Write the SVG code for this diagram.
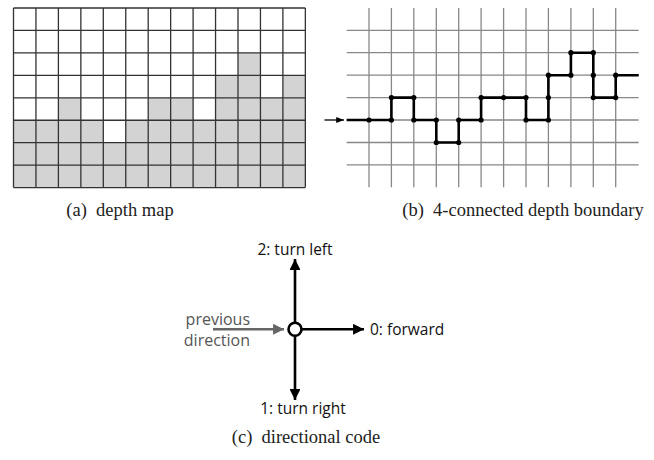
<svg xmlns="http://www.w3.org/2000/svg" width="654" height="460" viewBox="0 0 654 460">
<style>
.ga{stroke:#333;stroke-width:1.3;fill:none}
.gb{stroke:#888;stroke-width:1.3;fill:none}
.cell{fill:#d3d3d3}
.path{stroke:#000;stroke-width:2.6;fill:none;stroke-linejoin:miter}
.dot{fill:#000}
.cap{font-family:"Liberation Serif",serif;font-size:18.5px;fill:#222;white-space:pre}
.lbl{font-family:"Open Sans","Noto Sans",sans-serif;font-size:15.5px;fill:#111}
.lblg{font-family:"Open Sans","Noto Sans",sans-serif;font-size:16px;fill:#555}
</style>
<defs>
<marker id="ah" viewBox="0 0 10 10" refX="10" refY="5" markerWidth="4.2" markerHeight="4.2" markerUnits="strokeWidth" orient="auto"><path d="M0,0 L10,5 L0,10 z" fill="#000"/></marker>
<marker id="ahg" viewBox="0 0 10 10" refX="10" refY="5" markerWidth="4.2" markerHeight="4.2" markerUnits="strokeWidth" orient="auto"><path d="M0,0 L10,5 L0,10 z" fill="#666"/></marker>
<marker id="ahs" viewBox="0 0 10 10" refX="10" refY="5" markerWidth="6" markerHeight="6" markerUnits="strokeWidth" orient="auto"><path d="M0,1 L10,5 L0,9 z" fill="#000"/></marker>
</defs>

<g id="depth-map">
<g transform="translate(13.5,8)">
<rect class="cell" x="224.5" y="44.9" width="22.45" height="22.45"/>
<rect class="cell" x="202.05" y="67.35" width="44.9" height="22.45"/>
<rect class="cell" x="269.4" y="67.35" width="22.45" height="22.45"/>
<rect class="cell" x="44.9" y="89.8" width="22.45" height="22.45"/>
<rect class="cell" x="134.7" y="89.8" width="44.9" height="22.45"/>
<rect class="cell" x="202.05" y="89.8" width="89.8" height="22.45"/>
<rect class="cell" x="0" y="112.25" width="89.8" height="22.45"/>
<rect class="cell" x="112.25" y="112.25" width="179.6" height="22.45"/>
<rect class="cell" x="0" y="134.7" width="291.85" height="44.9"/>
<path class="ga" d="M0,0V179.6M22.45,0V179.6M44.9,0V179.6M67.35,0V179.6M89.8,0V179.6M112.25,0V179.6M134.7,0V179.6M157.15,0V179.6M179.6,0V179.6M202.05,0V179.6M224.5,0V179.6M246.95,0V179.6M269.4,0V179.6M291.85,0V179.6
M0,0H291.85M0,22.45H291.85M0,44.9H291.85M0,67.35H291.85M0,89.8H291.85M0,112.25H291.85M0,134.7H291.85M0,157.15H291.85M0,179.6H291.85"/>
</g>
</g>

<g id="boundary">
<path class="gb" d="M369,8V187.3M391.4,8V187.3M413.8,8V187.3M436.3,8V187.3M458.7,8V187.3M481.1,8V187.3M503.6,8V187.3M526,8V187.3M548.4,8V187.3M570.9,8V187.3M593.3,8V187.3M615.7,8V187.3
M346.7,30.3H638.7M346.7,52.7H638.7M346.7,75.2H638.7M346.7,97.6H638.7M346.7,120H638.7M346.7,142.5H638.7M346.7,164.9H638.7"/>
<path class="path" d="M346.7,120H391.4V97.6H413.8V120H436.3V142.5H458.7V120H481.1V97.6H526V120H548.4V75.2H570.9V52.7H593.3V97.6H615.7V75.2H638.7"/>
<g class="dot">
<circle cx="369" cy="120" r="2.6"/><circle cx="391.4" cy="120" r="2.6"/><circle cx="391.4" cy="97.6" r="2.6"/><circle cx="413.8" cy="97.6" r="2.6"/><circle cx="413.8" cy="120" r="2.6"/><circle cx="436.3" cy="120" r="2.6"/><circle cx="436.3" cy="142.5" r="2.6"/><circle cx="458.7" cy="142.5" r="2.6"/><circle cx="458.7" cy="120" r="2.6"/><circle cx="481.1" cy="120" r="2.6"/><circle cx="481.1" cy="97.6" r="2.6"/><circle cx="503.6" cy="97.6" r="2.6"/><circle cx="526" cy="97.6" r="2.6"/><circle cx="526" cy="120" r="2.6"/><circle cx="548.4" cy="120" r="2.6"/><circle cx="548.4" cy="97.6" r="2.6"/><circle cx="548.4" cy="75.2" r="2.6"/><circle cx="570.9" cy="75.2" r="2.6"/><circle cx="570.9" cy="52.7" r="2.6"/><circle cx="593.3" cy="52.7" r="2.6"/><circle cx="593.3" cy="75.2" r="2.6"/><circle cx="593.3" cy="97.6" r="2.6"/><circle cx="615.7" cy="97.6" r="2.6"/><circle cx="615.7" cy="75.2" r="2.6"/>
</g>
</g>

<g id="connectors">
<line x1="324.5" y1="120" x2="344" y2="120" stroke="#000" stroke-width="1.3" marker-end="url(#ahs)"/>
<line x1="295" y1="322.5" x2="295" y2="259" stroke="#000" stroke-width="2.6" marker-end="url(#ah)"/>
<line x1="295" y1="336" x2="295" y2="400" stroke="#000" stroke-width="2.6" marker-end="url(#ah)"/>
<line x1="301.7" y1="329.3" x2="364" y2="329.3" stroke="#000" stroke-width="2.6" marker-end="url(#ah)"/>
<line x1="213" y1="329.3" x2="284" y2="329.3" stroke="#666" stroke-width="2.6" marker-end="url(#ahg)"/>
</g>

<g id="center-node">
<circle cx="295" cy="329.3" r="6.5" fill="#fff" stroke="#000" stroke-width="2.6"/>
</g>

<g id="labels">
<text class="lbl" x="295" y="255" text-anchor="middle">2: turn left</text>
<text class="lbl" x="370" y="335">0: forward</text>
<text class="lbl" x="303" y="414" text-anchor="middle">1: turn right</text>
<text class="lblg" x="250" y="325" text-anchor="end">previous</text>
<text class="lblg" x="250" y="346" text-anchor="end">direction</text>
</g>

<g id="captions">
<text class="cap" x="120" y="216" text-anchor="middle">(a)  depth map</text>
<text class="cap" x="523" y="216" text-anchor="middle">(b)  4-connected depth boundary</text>
<text class="cap" x="306" y="443" text-anchor="middle">(c)  directional code</text>
</g>
</svg>
